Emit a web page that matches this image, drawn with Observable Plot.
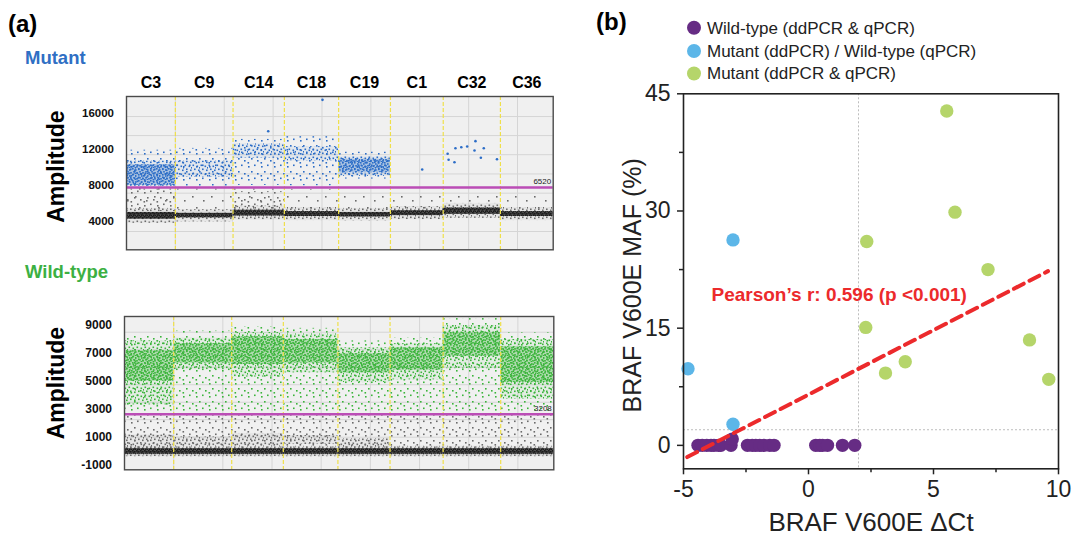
<!DOCTYPE html>
<html>
<head>
<meta charset="utf-8">
<script src="https://cdn.jsdelivr.net/npm/d3@7"></script>
<script src="https://cdn.jsdelivr.net/npm/@observablehq/plot@0.6"></script>
<style>
  html, body { margin: 0; padding: 0; background: #fff; }
  #root { position: relative; width: 1072px; height: 547px; overflow: hidden; font-family: "Liberation Sans", Arial, sans-serif; }
  .abs { position: absolute; left: 0; top: 0; }
</style>
</head>
<body>
<div id="root">
  <svg id="defs" width="0" height="0" style="position:absolute;left:0;top:0"></svg>
</div>
<script>
// ---------------- DATA: panel (a) droplet amplitude plots ----------------
const wells      = ["C3", "C9", "C14", "C18", "C19", "C1", "C32", "C36"];
const wellStart  = [0, 1.00, 2.18, 3.23, 4.34, 5.40, 6.48, 7.65];   // event index (x1000 droplets)
const wellEnd    = [1.00, 2.18, 3.23, 4.34, 5.40, 6.48, 7.65, 8.73];
const eventGrid  = [1, 2, 3, 4, 5, 6, 7, 8];

// Mutant (FAM) channel
const mutTicks     = [4000, 8000, 12000, 16000];
const mutGrid      = [2890, 5030, 7140, 9270, 11400, 13520, 15630];
const mutThreshold = 7760;
const mutThresholdLabel = "6520";
const mutDenseLo   = [8000, null, null, null, 9400, null, null, null];
const mutDenseHi   = [10300, null, null, null, 10900, null, null, null];
const mutCoreLo    = [7900, 8900, 11000, 10700, 9000, null, null, null];
const mutCoreHi    = [10700, 10700, 12600, 12300, 11200, null, null, null];
const mutSpreadLo  = [7850, 7900, 8000, 7950, 8700, null, null, null];
const mutSpreadHi  = [11900, 12100, 13100, 13400, 11700, null, null, null];
const mutRainDenseLo = [5100, null, 5300, null, null, null, null, null];
const mutRainDenseHi = [7600, null, 7300, null, null, null, null, null];
const mutRainLo    = [5100, 5000, 5300, 5250, 5150, 5350, 5700, 5250];
const mutRainHi    = [7650, 7600, 7600, 7550, 7400, 7400, 6900, 6800];
const mutFringeLo  = [3800, 3950, 4150, 4100, 4050, 4200, 4350, 4100];
const mutFringeHi  = [5450, 5300, 5700, 5550, 5450, 5650, 6000, 5550];
const mutNegLo     = [4250, 4400, 4600, 4550, 4500, 4650, 4800, 4550];
const mutNegHi     = [5000, 4900, 5250, 5100, 5000, 5200, 5500, 5100];
const mutDropX     = [6.57, 6.59, 6.71, 6.73, 6.85, 6.97, 7.14, 7.12, 7.25, 7.31, 7.58, 6.05, 4.01, 2.90];
const mutDropY     = [11500, 10840, 10570, 12120, 12230, 12310, 12900, 11870, 11060, 12120, 10900, 9760, 17480, 14000];

// Wild-type (HEX) channel
const wtTicks      = [-1000, 1000, 3000, 5000, 7000, 9000];
const wtGrid       = [-280, 980, 2240, 3490, 4750, 6010, 7260, 8520];
const wtThreshold  = 2630;
const wtThresholdLabel = "3208";
const wtDenseLo    = [5000, 6300, 6200, 6300, 5600, 5800, 6800, 4900];
const wtDenseHi    = [7200, 7700, 8200, 8000, 7000, 7400, 8500, 7500];
const wtCoreLo     = [3300, 5800, 5300, 5600, 4900, 5100, 5900, 3700];
const wtCoreHi     = [7900, 8100, 8500, 8400, 7400, 7700, 9000, 8000];
const wtSpreadLo   = [2700, 2700, 2700, 2700, 2700, 2700, 2700, 2700];
const wtSpreadHi   = [8300, 8600, 8900, 8800, 7900, 8100, 9500, 8500];
const wtBandLo     = [100, 350, 350, 450, 250, null, null, null];
const wtBandHi     = [1150, 1000, 1250, 1100, 880, null, null, null];
const wtRainLo     = [200, 200, 200, 200, 200, 200, 200, 200];
const wtRainHi     = [2550, 2550, 2550, 2550, 2550, 2550, 2550, 2550];
const wtFringeLo   = [-420, -420, -420, -420, -420, -420, -420, -420];
const wtFringeHi   = [330, 330, 330, 330, 330, 330, 330, 330];
const wtNegLo      = [-250, -250, -250, -250, -250, -250, -250, -250];
const wtNegHi      = [160, 160, 160, 160, 160, 160, 160, 160];

// ---------------- DATA: panel (b) scatter ----------------
const wtDeltaCt  = [-4.42, -4.25, -4.07, -3.9, -3.78, -3.6, -3.51, -3.1, -3.05, -2.44, -2.25, -2.11, -1.95, -1.78, -1.55, -1.38, 0.29, 0.45, 0.56, 0.76, 1.36, 1.85];
const wtMAF      = [0, 0, 0, 0, 0, 0, 0, 0, 0.8, 0, 0, 0, 0, 0, 0, 0, 0, 0, 0, 0, 0, 0];
const mdDeltaCt  = [-4.82, -3.02, -3.02];
const mdMAF      = [9.8, 26.3, 2.7];
const mutDeltaCt = [5.53, 5.86, 2.33, 7.18, 2.29, 3.08, 3.87, 8.84, 9.61];
const mutMAF     = [42.8, 29.85, 26.1, 22.5, 15.1, 9.25, 10.7, 13.5, 8.45];
const fitDeltaCt = [-4.85, 9.58];
const fitMAF     = [-1.5, 22.3];
const cutDeltaCt = [2];
const cutMAF     = [2];
const bTicksMajor = [-5, 0, 5, 10];
const bTicksMinor = [-2.5, 2.5, 7.5];
const bYMajor    = [0, 15, 30, 45];
const bYMinor    = [7.5, 22.5, 37.5];
const legendLabels = ["Wild-type (ddPCR & qPCR)", "Mutant (ddPCR) / Wild-type (qPCR)", "Mutant (ddPCR & qPCR)"];
const pearsonText = "Pearson\u2019s r: 0.596 (p <0.001)";

// ---------------- STYLE ----------------
const FONT = "'Liberation Sans', Arial, Helvetica, sans-serif";
const C = {
  blue: "#2c6dc7", green: "#3bb43b", gray: "#6b6b6b", black: "#1b1b1b",
  thr: "#bb4db6", sep: "#efe04a", bg: "#f0f0f0", grid: "#d5d5d5",
  purple: "#662c84", sky: "#5cb6e8", lime: "#b5d56a", red: "#ec2a2c"
};

// dot-texture patterns (style only)
const defs = d3.select("#defs").append("defs");
const patternShapes = {
  dense:  {size: 6,  bg: 0.32, r: 1.6, dots: [[0,0],[3,1.2],[1.2,3],[4.2,4],[2.6,5]]},
  mid:    {size: 8,  bg: 0.07, r: 1.6, dots: [[0.5,0.5],[4.5,1.5],[2,4.5],[6,5.5],[7,3]]},
  sparse: {size: 13, bg: 0,    r: 1.6, dots: [[1,2],[7,0.5],[4,7],[10,9],[0.5,11]]},
  thin:   {size: 19, bg: 0,    r: 1.6, dots: [[2,3],[13,7],[6,14]]},
  band:   {size: 4,  bg: 0.75, r: 1.6, dots: [[0,0],[2,1],[1,2.5],[3,3]]}
};
function makePattern(id, color, shape) {
  const s = patternShapes[shape];
  const p = defs.append("pattern").attr("id", id).attr("patternUnits", "userSpaceOnUse")
    .attr("width", s.size).attr("height", s.size);
  if (s.bg) p.append("rect").attr("width", s.size).attr("height", s.size).attr("fill", color).attr("fill-opacity", s.bg);
  for (const [x, y] of s.dots) p.append("rect").attr("x", x).attr("y", y).attr("width", s.r).attr("height", s.r).attr("fill", color);
}
makePattern("blueDense", C.blue, "dense");
makePattern("blueMid", C.blue, "mid");
makePattern("blueSparse", C.blue, "sparse");
makePattern("greenDense", C.green, "dense");
makePattern("greenMid", C.green, "mid");
makePattern("greenSparse", C.green, "sparse");
makePattern("grayMid", C.gray, "mid");
makePattern("graySparse", C.gray, "sparse");
makePattern("grayThin", C.gray, "thin");
makePattern("blackBand", C.black, "band");

function layer(lo, hi) {
  const out = [];
  wells.forEach((w, i) => {
    if (lo[i] != null && hi[i] != null) out.push({x1: wellStart[i], x2: wellEnd[i], y1: lo[i], y2: hi[i]});
  });
  return out;
}
const root = document.getElementById("root");
function place(node, left, top) {
  node.classList.add("abs");
  node.style.left = left + "px";
  node.style.top = top + "px";
  root.appendChild(node);
}

function dropletPlot(cfg) {
  return Plot.plot({
    width: cfg.width, height: cfg.height,
    marginLeft: cfg.ml, marginRight: cfg.mr, marginTop: cfg.mt, marginBottom: cfg.mb,
    x: {domain: [0, 8.73], axis: null},
    y: {domain: cfg.domain},
    style: {fontFamily: FONT, background: "transparent", overflow: "visible", color: "#111"},
    marks: [
      Plot.frame({fill: C.bg}),
      Plot.ruleY(cfg.grid, {stroke: C.grid, strokeWidth: 1}),
      Plot.ruleX(eventGrid, {stroke: C.grid, strokeWidth: 1}),
      ...cfg.layers.map(([lo, hi, fill]) => Plot.rect(layer(lo, hi), {x1: "x1", x2: "x2", y1: "y1", y2: "y2", fill})),
      cfg.dropsX ? Plot.dot(cfg.dropsX.map((x, i) => ({x, y: cfg.dropsY[i]})), {x: "x", y: "y", r: 1.3, fill: C.blue}) : null,
      Plot.ruleX(wellStart.slice(1), {stroke: C.sep, strokeWidth: 1.2, strokeDasharray: "4,2"}),
      Plot.ruleY([cfg.threshold], {stroke: C.thr, strokeWidth: 2.6}),
      Plot.text([cfg.thresholdLabel], {text: d => d, frameAnchor: "right", y: cfg.threshold, dx: -2, dy: -6, textAnchor: "end", fontSize: 8, fill: "#222"}),
      Plot.frame({stroke: "#4a4a4a", strokeWidth: 1.4}),
      Plot.axisY(cfg.ticks, {tickSize: 0, tickPadding: 12.5, fontSize: cfg.tickFont, fontWeight: "bold", tickFormat: d => String(d), label: null}),
      Plot.text(["Amplitude"], {text: d => d, frameAnchor: "left", textAnchor: "middle", lineAnchor: "middle", rotate: -90, dx: cfg.titleDx, dy: cfg.titleDy, fontSize: 23, fontWeight: "bold", fill: "#000"}),
      cfg.wellLabels ? Plot.text(wells, {text: d => d, x: (d, i) => (wellStart[i] + wellEnd[i]) / 2, frameAnchor: "top", lineAnchor: "middle", dy: -13.3, fontSize: 16, fontWeight: "bold", fill: "#000"}) : null
    ]
  });
}

// top: mutant channel
place(dropletPlot({
  width: 570, height: 200, ml: 126, mr: 17.3, mt: 36, mb: 10.7,
  domain: [864, 17850], grid: mutGrid, ticks: mutTicks, tickFont: 11.5,
  threshold: mutThreshold, thresholdLabel: mutThresholdLabel,
  titleDx: -70, titleDy: -6.5, wellLabels: true,
  dropsX: mutDropX, dropsY: mutDropY,
  layers: [
    [mutRainLo, mutRainHi, "url(#grayThin)"],
    [mutRainDenseLo, mutRainDenseHi, "url(#graySparse)"],
    [mutFringeLo, mutFringeHi, "url(#grayMid)"],
    [mutNegLo, mutNegHi, "url(#blackBand)"],
    [mutSpreadLo, mutSpreadHi, "url(#blueSparse)"],
    [mutCoreLo, mutCoreHi, "url(#blueMid)"],
    [mutDenseLo, mutDenseHi, "url(#blueDense)"]
  ]
}), 0, 60);

// bottom: wild-type channel
place(dropletPlot({
  width: 570, height: 190, ml: 124, mr: 16.7, mt: 26, mb: 10.7,
  domain: [-1360, 9650], grid: wtGrid, ticks: wtTicks, tickFont: 12,
  threshold: wtThreshold, thresholdLabel: wtThresholdLabel,
  titleDx: -68, titleDy: -10, wellLabels: false,
  layers: [
    [wtRainLo, wtRainHi, "url(#graySparse)"],
    [wtBandLo, wtBandHi, "url(#grayMid)"],
    [wtFringeLo, wtFringeHi, "url(#grayMid)"],
    [wtNegLo, wtNegHi, "url(#blackBand)"],
    [wtSpreadLo, wtSpreadHi, "url(#greenSparse)"],
    [wtCoreLo, wtCoreHi, "url(#greenMid)"],
    [wtDenseLo, wtDenseHi, "url(#greenDense)"]
  ]
}), 0, 290);

// panel (b)
const ptsWT = wtDeltaCt.map((x, i) => ({x, y: wtMAF[i]}));
const ptsMD = mdDeltaCt.map((x, i) => ({x, y: mdMAF[i]}));
const ptsMut = mutDeltaCt.map((x, i) => ({x, y: mutMAF[i]}));
const fit = fitDeltaCt.map((x, i) => ({x, y: fitMAF[i]}));
const tickFmt = d => String(d);
place(Plot.plot({
  width: 482, height: 547,
  marginLeft: 93, marginRight: 14, marginTop: 93.3, marginBottom: 78.7,
  x: {domain: [-5, 10]},
  y: {domain: [-3, 45]},
  style: {fontFamily: FONT, background: "transparent", overflow: "visible", color: "#222"},
  marks: [
    Plot.ruleX(cutDeltaCt, {stroke: "#bdbdbd", strokeWidth: 1, strokeDasharray: "2,2"}),
    Plot.ruleY(cutMAF, {stroke: "#bdbdbd", strokeWidth: 1, strokeDasharray: "2,2"}),
    Plot.dot(ptsWT, {x: "x", y: "y", r: 6.7, fill: C.purple}),
    Plot.dot(ptsMD, {x: "x", y: "y", r: 6.7, fill: C.sky}),
    Plot.dot(ptsMut, {x: "x", y: "y", r: 6.7, fill: C.lime}),
    Plot.line(fit, {x: "x", y: "y", stroke: C.red, strokeWidth: 4, strokeDasharray: "11,6.5"}),
    Plot.text([pearsonText], {text: d => d, x: -3.88, y: 19.3, textAnchor: "start", fontSize: 19, fontWeight: "bold", fill: C.red}),
    Plot.frame({stroke: "#222", strokeWidth: 1.6}),
    Plot.axisX(bTicksMajor, {tickSize: 6, tickPadding: 6, fontSize: 23, strokeWidth: 1.5, tickFormat: tickFmt, label: null}),
    Plot.axisX(bTicksMinor, {tickSize: 4, strokeWidth: 1.5, tickFormat: () => "", label: null}),
    Plot.axisY(bYMajor, {tickSize: 6, tickPadding: 7, fontSize: 23, strokeWidth: 1.5, tickFormat: tickFmt, label: null}),
    Plot.axisY(bYMinor, {tickSize: 4, strokeWidth: 1.5, tickFormat: () => "", label: null}),
    Plot.text(["BRAF V600E \u0394Ct"], {text: d => d, frameAnchor: "bottom", lineAnchor: "middle", dy: 54, fontSize: 26, fill: "#222"}),
    Plot.text(["BRAF V600E MAF (%)"], {text: d => d, frameAnchor: "left", textAnchor: "middle", lineAnchor: "middle", rotate: -90, dx: -51, dy: 4, fontSize: 25, fill: "#222"})
  ]
}), 590, 0);

// overlay labels & legend
const ov = d3.create("svg").attr("width", 1072).attr("height", 547).style("font-family", FONT);
ov.append("text").attr("x", 8).attr("y", 24).attr("dy", "0.35em").attr("font-size", 24).attr("font-weight", "bold").text("(a)");
ov.append("text").attr("x", 596).attr("y", 22).attr("dy", "0.35em").attr("font-size", 24).attr("font-weight", "bold").text("(b)");
ov.append("text").attr("x", 25).attr("y", 58).attr("dy", "0.35em").attr("font-size", 18.5).attr("font-weight", "bold").attr("fill", "#2f6fc4").text("Mutant");
ov.append("text").attr("x", 25).attr("y", 272).attr("dy", "0.35em").attr("font-size", 18.5).attr("font-weight", "bold").attr("fill", "#3cb043").text("Wild-type");
const legColors = [C.purple, C.sky, C.lime];
const legY = [27.7, 51, 73.5];
legendLabels.forEach((t, i) => {
  ov.append("circle").attr("cx", 694).attr("cy", legY[i]).attr("r", 7).attr("fill", legColors[i]);
  ov.append("text").attr("x", 707).attr("y", legY[i]).attr("dy", "0.35em").attr("font-size", 17).attr("fill", "#222").text(t);
});
const ovNode = ov.node();
ovNode.style.pointerEvents = "none";
place(ovNode, 0, 0);
</script>
</body>
</html>
